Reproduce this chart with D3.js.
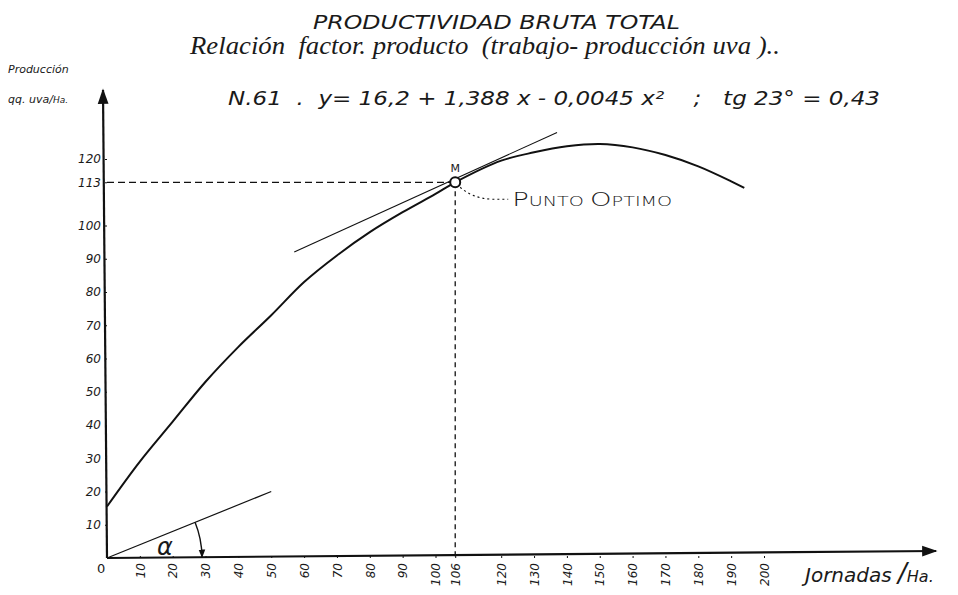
<!DOCTYPE html>
<html><head><meta charset="utf-8">
<script src="https://cdn.jsdelivr.net/npm/d3@7"></script>
<style>
body{margin:0;background:#fff;}
svg text{font-family:"DejaVu Sans",sans-serif;fill:#1a1a1a;white-space:pre;}
</style></head>
<body><svg id="c" width="958" height="595"></svg>
<script>
// ---- data ----
const jornadas   = [0, 10, 20, 30, 40, 50, 60, 70, 80, 90, 100, 106, 120, 130, 140, 150, 160, 170, 180, 190, 194];
const produccion = [15.5, 29, 41, 53, 63.5, 73, 83, 91, 98, 104, 109.5, 113, 119.5, 122, 123.8, 124.5, 123.5, 121.2, 117.8, 113.3, 111.3];
const tangenteX = [57, 137];
const tangenteY = [92, 128];
const alfaX = [0, 50];
const alfaY = [0, 20];
const optimoX = 106;
const optimoY = 113;
const xTicks = [10,20,30,40,50,60,70,80,90,100,106,120,130,140,150,160,170,180,190,200];
const yTicks = [10,20,30,40,50,60,70,80,90,100,113,120];
const titulo1 = "PRODUCTIVIDAD BRUTA TOTAL";
const titulo2 = "Relación  factor. producto  (trabajo- producción uva )..";
const titulo3 = "N.61  .  y= 16,2 + 1,388 x - 0,0045 x²    ;   tg 23° = 0,43";

const svg = d3.select("#c");
const x = d3.scaleLinear().domain([0,200]).range([107,764]);
const y = d3.scaleLinear().domain([0,120]).range([558,159]);

const defs = svg.append("defs");
defs.append("marker").attr("id","arr").attr("viewBox","0 0 10 10").attr("refX",9).attr("refY",5)
  .attr("markerWidth",9).attr("markerHeight",7).attr("orient","auto")
  .append("path").attr("d","M0,1.5 L10,5 L0,8.5 Z").attr("fill","#111");
defs.append("marker").attr("id","arrS").attr("viewBox","0 0 10 10").attr("refX",9).attr("refY",5)
  .attr("markerWidth",6).attr("markerHeight",6).attr("orient","auto")
  .append("path").attr("d","M0,1 L10,5 L0,9 Z").attr("fill","#111");

// titles
svg.append("text").attr("x",313).attr("y",29).attr("font-size",19).attr("font-style","italic").attr("font-weight",300)
  .attr("textLength",367).attr("lengthAdjust","spacingAndGlyphs").text(titulo1);
svg.append("text").attr("x",190).attr("y",54).attr("font-size",25).attr("font-style","italic")
  .style("font-family","'Liberation Serif',serif")
  .attr("textLength",590).attr("lengthAdjust","spacingAndGlyphs").text(titulo2);
svg.append("text").attr("x",228).attr("y",105).attr("font-size",19).attr("font-style","italic").attr("font-weight",300)
  .attr("textLength",652).attr("lengthAdjust","spacingAndGlyphs").text(titulo3);

// y-axis title
svg.append("text").attr("x",8).attr("y",73).attr("font-size",11).attr("font-style","italic").text("Producción");
const yl = svg.append("text").attr("x",8).attr("y",103).attr("font-size",11).attr("font-style","italic");
yl.append("tspan").text("qq. uva/");
yl.append("tspan").attr("font-size",9).text("Ha.");

// axes lines
svg.append("line").attr("x1",x(0)).attr("y1",y(0)).attr("x2",103).attr("y2",90)
  .attr("stroke","#111").attr("stroke-width",2.2).attr("marker-end","url(#arr)");
svg.append("line").attr("x1",x(0)).attr("y1",y(0)).attr("x2",936).attr("y2",551)
  .attr("stroke","#111").attr("stroke-width",2.2).attr("marker-end","url(#arr)");

// y axis labels
const ya = svg.append("g").attr("transform",`translate(${x(0)},0)`)
  .call(d3.axisLeft(y).tickValues(yTicks).tickSize(2).tickFormat(d3.format("d")));
ya.select(".domain").remove();
ya.selectAll("line").attr("stroke","#111");
ya.selectAll("text").attr("font-size",12).attr("font-style","italic").attr("x",-6)
  .style("font-family","'DejaVu Sans',sans-serif").attr("fill","#1a1a1a");

// x axis labels
const xa = svg.append("g").attr("transform",`translate(0,${y(0)})`)
  .call(d3.axisBottom(x).tickValues(xTicks).tickSize(2).tickFormat(d3.format("d")));
xa.select(".domain").remove();
xa.selectAll("line").attr("stroke","#111").attr("transform","translate(0,-2)");
xa.selectAll("text").attr("font-size",12).attr("font-style","italic")
  .attr("y",0).attr("dy","0.35em").attr("text-anchor","end")
  .attr("transform","translate(0,5) rotate(-90)")
  .style("font-family","'DejaVu Sans',sans-serif").attr("fill","#1a1a1a");

svg.append("text").attr("x",97).attr("y",573).attr("font-size",13).text("0");

// x-axis title
const xt = svg.append("text").attr("x",805).attr("y",582).attr("font-size",20).attr("font-style","italic").attr("font-weight",300);
xt.append("tspan").text("Jornadas ");
xt.append("tspan").attr("font-size",26).text("/");
xt.append("tspan").attr("font-size",16).text("Ha.");

// alpha construction line and arc
svg.append("line").attr("x1",x(alfaX[0])).attr("y1",y(alfaY[0])).attr("x2",x(alfaX[1])).attr("y2",y(alfaY[1]))
  .attr("stroke","#111").attr("stroke-width",1.2);
{
  const cx = x(0), cy = y(0), r = 95;
  const ang = Math.atan2(y(alfaY[0]) - y(alfaY[1]), x(alfaX[1]) - x(alfaX[0]));
  const p = d3.path();
  p.moveTo(cx + r*Math.cos(ang), cy - r*Math.sin(ang));
  p.arc(cx, cy, r, -ang, -0.01, false);
  svg.append("path").attr("d",p.toString()).attr("fill","none").attr("stroke","#111")
    .attr("stroke-width",1.4).attr("marker-end","url(#arrS)");
}
svg.append("text").attr("x",157).attr("y",555).attr("font-size",24).attr("font-style","italic").text("α");

// dashed reference lines
svg.append("line").attr("x1",x(0)).attr("y1",y(optimoY)).attr("x2",x(optimoX)).attr("y2",y(optimoY))
  .attr("stroke","#111").attr("stroke-width",1.3).attr("stroke-dasharray","7,4");
svg.append("line").attr("x1",x(optimoX)).attr("y1",y(optimoY)).attr("x2",x(optimoX)).attr("y2",y(0))
  .attr("stroke","#111").attr("stroke-width",1.3).attr("stroke-dasharray","5,4");

// tangent
svg.append("line").attr("x1",x(tangenteX[0])).attr("y1",y(tangenteY[0])).attr("x2",x(tangenteX[1])).attr("y2",y(tangenteY[1]))
  .attr("stroke","#111").attr("stroke-width",1.1);

// production curve
const line = d3.line().x((d,i)=>x(jornadas[i])).y((d,i)=>y(produccion[i])).curve(d3.curveCatmullRom.alpha(0.5));
svg.append("path").datum(jornadas).attr("d",line).attr("fill","none").attr("stroke","#111").attr("stroke-width",2);

// optimum point
svg.append("circle").attr("cx",x(optimoX)).attr("cy",y(optimoY)).attr("r",5)
  .attr("fill","#fff").attr("stroke","#111").attr("stroke-width",2);
svg.append("text").attr("x",x(optimoX)).attr("y",y(optimoY)-10).attr("text-anchor","middle")
  .attr("font-size",11).text("M");

// leader to label
{
  const sx = x(optimoX)+5, sy = y(optimoY)+5;
  const p = d3.path();
  p.moveTo(sx, sy);
  p.quadraticCurveTo(sx+12, sy+11, sx+32, sy+12);
  p.lineTo(sx+48, sy+12);
  svg.append("path").attr("d",p.toString()).attr("fill","none").attr("stroke","#111")
    .attr("stroke-width",1.1).attr("stroke-dasharray","2,3");
  const t = svg.append("text").attr("x",sx+52).attr("y",sy+19).attr("font-size",20).attr("font-weight",300)
    .attr("textLength",160).attr("lengthAdjust","spacingAndGlyphs");
  t.append("tspan").text("P");
  t.append("tspan").attr("font-size",14).text("UNTO ");
  t.append("tspan").text("O");
  t.append("tspan").attr("font-size",14).text("PTIMO");
}
</script></body></html>
